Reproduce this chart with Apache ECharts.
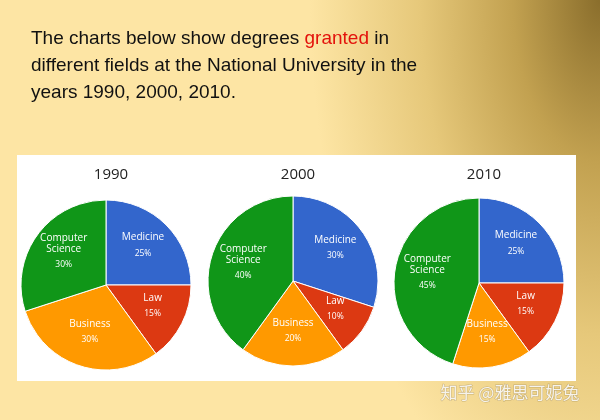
<!DOCTYPE html>
<html>
<head>
<meta charset="UTF-8">
<style>
html, body { margin: 0; padding: 0; }
#chart_div {
	width: 600px; height: 420px;
	background: radial-gradient(290px 540px at 600px 0px, #8a6e2c 0%, #c2a150 30%, #e6c87a 62%, #fde5a4 100%), #fde5a4;
}
</style>
</head>
<body>
<div id="chart_div"></div>
<script src="https://cdn.jsdelivr.net/npm/echarts@6/dist/echarts.min.js"></script>
<script type="text/javascript">
// 数据
var fields = ['Medicine', 'Law', 'Business', 'Computer Science'];
var years = ['1990', '2000', '2010'];
var data1990 = [25, 15, 30, 30];
var data2000 = [30, 10, 20, 40];
var data2010 = [25, 15, 15, 45];
var colors = ['#3366cc', '#dc3912', '#ff9900', '#109618'];

var myChart = echarts.init(document.getElementById('chart_div'));
var centers = [[106, 285], [293, 281], [479, 283]];
var allData = [data1990, data2000, data2010];

function makeSeries(idx) {
	var c = centers[idx];
	return {
		type: 'pie',
		center: c,
		radius: [0, 85],
		startAngle: 90,
		clockwise: true,
		animation: false,
		silent: true,
		itemStyle: { borderColor: '#fff', borderWidth: 1 },
		label: {
			show: true,
			position: 'inner',
			color: '#fff',
			align: 'center',
			fontFamily: 'Open Sans',
			formatter: function (p) {
				return '{n|' + p.name.replace(' ', '}\n{n|') + '}\n{p|' + p.value + '%}';
			},
			rich: {
				n: { fontSize: 10, lineHeight: 11, color: '#fff', align: 'center', fontFamily: 'Open Sans' },
				p: { fontSize: 8.5, lineHeight: 20, color: '#fff', align: 'center', fontFamily: 'Open Sans' }
			}
		},
		labelLine: { show: false },
		// 标签往外推一点
		labelLayout: function (params) {
			var r = params.labelRect;
			var lx = r.x + r.width / 2, ly = r.y + r.height / 2;
			return { dx: (lx - c[0]) * 0.15, dy: (ly - c[1]) * 0.15 };
		},
		data: fields.map(function (f, i) {
			return { name: f, value: allData[idx][i], itemStyle: { color: colors[i] } };
		})
	};
}

var titles = [{
	left: 31,
	top: 25,
	padding: 0,
	text: 'The charts below show degrees {r|granted} in\ndifferent fields at the National University in the\nyears 1990, 2000, 2010.',
	textStyle: {
		fontFamily: 'Liberation Sans',
		fontSize: 19,
		fontWeight: 'normal',
		lineHeight: 27,
		color: '#111',
		rich: {
			r: { fontFamily: 'Liberation Sans', fontSize: 19, lineHeight: 27, color: '#e3120b' }
		}
	}
}];
years.forEach(function (y, i) {
	titles.push({
		text: y,
		left: centers[i][0],
		top: 162,
		textAlign: 'center',
		textStyle: { fontFamily: 'Open Sans', fontSize: 15, fontWeight: 'normal', color: '#222' }
	});
});

option = {
	backgroundColor: 'transparent',
	title: titles,
	graphic: [
		{
			type: 'rect', z: -1,
			shape: { x: 17, y: 155, width: 559, height: 226 },
			style: { fill: '#fff' }
		},
		{
			type: 'text',
			left: 440, top: 384,
			style: {
				text: '知乎 @雅思可妮兔',
				font: '17px "Noto Sans CJK SC"',
				fill: '#f6f3ec',
				stroke: 'rgba(120,100,60,0.35)',
				lineWidth: 1
			}
		}
	],
	series: [makeSeries(0), makeSeries(1), makeSeries(2)]
};
myChart.setOption(option);
</script>
</body>
</html>
